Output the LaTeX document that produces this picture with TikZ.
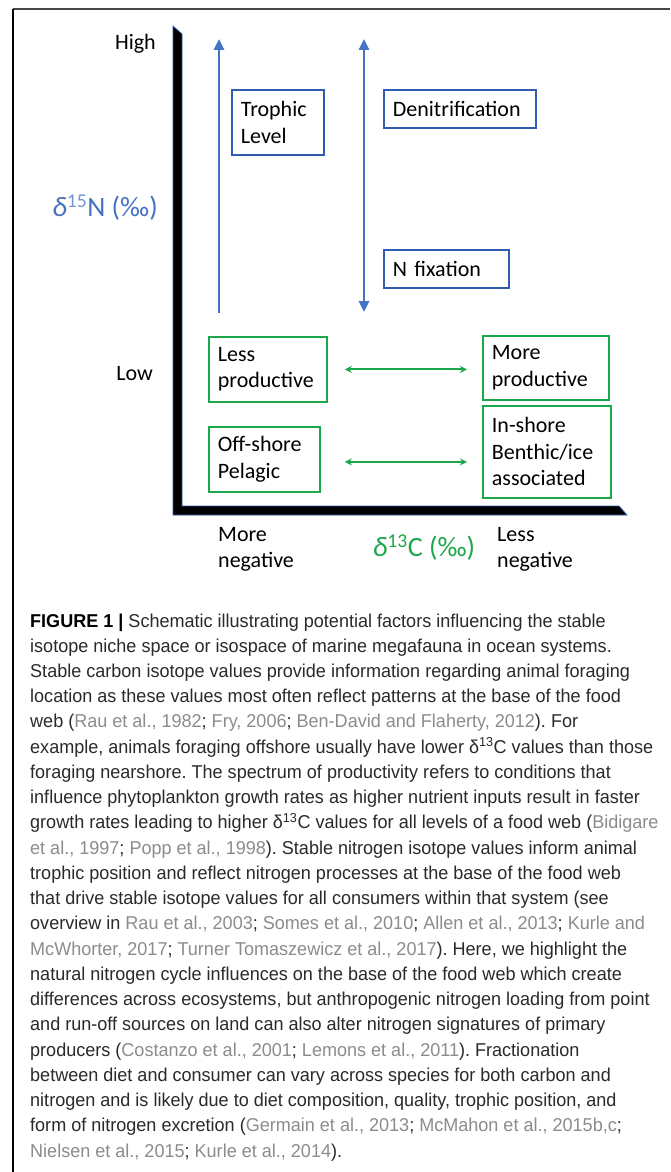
\documentclass[tikz,border=0pt]{standalone}
\usepackage{fontspec}
\setmainfont{Carlito}
\newfontfamily\capf[FakeStretch=0.97]{Liberation Sans}
\usetikzlibrary{arrows.meta}
\definecolor{bboxc}{HTML}{2F5CB0}
\definecolor{barrowc}{HTML}{4472C4}
\definecolor{gboxc}{HTML}{1BA84A}
\definecolor{garrowc}{HTML}{1BA84A}
\definecolor{citc}{HTML}{8C8C8C}
\definecolor{captxt}{HTML}{2A2A2A}
\definecolor{framec}{HTML}{454545}
\newcommand\cit[1]{\textcolor{citc}{#1}}
\frenchspacing
\begin{document}
\begin{tikzpicture}[x=1pt,y=-1pt,
  dfont/.style={font=\fontsize{22}{26.5}\selectfont},
  boxb/.style={draw=bboxc, line width=1.8pt, align=left, anchor=north west, inner xsep=9pt, inner ysep=0pt, dfont},
  boxg/.style={boxb, draw=gboxc},
  lbl/.style={inner sep=0pt, dfont},
  barr/.style={draw=barrowc, line width=2.6pt, -{Triangle[length=11pt,width=10pt]}},
  barrr/.style={draw=barrowc, line width=2.6pt, {Triangle[length=11pt,width=10pt]}-{Triangle[length=11pt,width=10pt]}},
  garr/.style={draw=garrowc, line width=2pt, {Stealth[length=7pt,width=7pt]}-{Stealth[length=7pt,width=7pt]}},
  capl/.style={anchor=base west, inner sep=0pt, font=\capf\fontsize{18.6}{22}\selectfont\frenchspacing, text=captxt}
]
\useasboundingbox (0,0) rectangle (670,1172);
\fill[white] (0,0) rectangle (670,1172);
% frame
\draw[framec, line width=1.5pt] (13,9) -- (670,9);
\draw[black, line width=1.1pt] (13,9) -- (13,1172);
% axes
\fill[black, draw=bboxc, line width=0.7pt] (173,26) -- (182,34) -- (182,506) -- (619,506) -- (627,515) -- (173,515) -- cycle;
% axis labels
\node[lbl, anchor=base east] (high) at (156,50) {High};
\node[lbl, anchor=base east] (low) at (153,380) {Low};
\node[lbl, font=\fontsize{28}{30}\selectfont, text=barrowc] (dn) at (105,208) {\textit{δ}\textsuperscript{\textcolor{barrowc!75}{15}}N (‰)};
\node[lbl, font=\fontsize{28}{30}\selectfont, text=garrowc] (dc) at (424,548) {\textit{δ}\textsuperscript{13}C (‰)};
\node[lbl, align=left, anchor=west] (mneg) at (218,549.5) {More\\negative};
\node[lbl, align=left, anchor=west] (lneg) at (497,549.5) {Less\\negative};
% boxes
\node[boxb, text width=74pt, minimum height=65pt] (troph) at (231,89) {Trophic\\Level};
\node[boxb, text width=134pt, minimum height=38pt] (denit) at (383,89) {Denitrification};
\node[boxb, text width=107pt, minimum height=38pt] (nfix) at (383,249) {N fixation};
\node[boxg, text width=100pt, minimum height=65pt] (lessp) at (208,336) {Less\\productive};
\node[boxg, text width=108pt, minimum height=64pt] (morep) at (482,335) {More\\productive};
\node[boxg, text width=93pt, minimum height=65pt] (offs) at (208,426) {Off-shore\\Pelagic};
\node[boxg, text width=110pt, minimum height=92pt] (insh) at (482,405) {In-shore\\Benthic/ice\\associated};
% arrows
\coordinate (a1b) at (219,313);
\coordinate (a1t) at (219,39);
\coordinate (a2b) at (364,312);
\coordinate (a2t) at (364,39);
\draw[barr] (a1b) -- (a1t);
\draw[barrr] (a2b) -- (a2t);
\draw[garr, shorten <=17pt, shorten >=15pt] (lessp.east) -- (lessp.east -| morep.west);
\draw[garr, shorten <=24pt, shorten >=15pt] ([yshift=-2.5pt]offs.east) -- ([yshift=-2.5pt]offs.east -| insh.west);
% caption
\node[capl] (c1) at (30,627) {\textbf{\textcolor{black}{FIGURE 1 |}} Schematic illustrating potential factors influencing the stable};
\node[capl] (c2) at (30,652.24) {isotope niche space or isospace of marine megafauna in ocean systems.};
\node[capl] (c3) at (30,677.48) {Stable carbon isotope values provide information regarding animal foraging};
\node[capl] (c4) at (30,702.72) {location as these values most often reflect patterns at the base of the food};
\node[capl] (c5) at (30,727.96) {web (\cit{Rau et al., 1982}; \cit{Fry, 2006}; \cit{Ben-David and Flaherty, 2012}). For};
\node[capl] (c6) at (30,753.2) {example, animals foraging offshore usually have lower δ\textsuperscript{13}C values than those};
\node[capl] (c7) at (30,778.44) {foraging nearshore. The spectrum of productivity refers to conditions that};
\node[capl] (c8) at (30,803.68) {influence phytoplankton growth rates as higher nutrient inputs result in faster};
\node[capl] (c9) at (30,828.92) {growth rates leading to higher δ\textsuperscript{13}C values for all levels of a food web (\cit{Bidigare}};
\node[capl] (c10) at (30,854.16) {\cit{et al., 1997}; \cit{Popp et al., 1998}). Stable nitrogen isotope values inform animal};
\node[capl] (c11) at (30,879.4) {trophic position and reflect nitrogen processes at the base of the food web};
\node[capl] (c12) at (30,904.64) {that drive stable isotope values for all consumers within that system (see};
\node[capl] (c13) at (30,929.88) {overview in \cit{Rau et al., 2003}; \cit{Somes et al., 2010}; \cit{Allen et al., 2013}; \cit{Kurle and}};
\node[capl] (c14) at (30,955.12) {\cit{McWhorter, 2017}; \cit{Turner Tomaszewicz et al., 2017}). Here, we highlight the};
\node[capl] (c15) at (30,980.36) {natural nitrogen cycle influences on the base of the food web which create};
\node[capl] (c16) at (30,1005.6) {differences across ecosystems, but anthropogenic nitrogen loading from point};
\node[capl] (c17) at (30,1030.84) {and run-off sources on land can also alter nitrogen signatures of primary};
\node[capl] (c18) at (30,1056.08) {producers (\cit{Costanzo et al., 2001}; \cit{Lemons et al., 2011}). Fractionation};
\node[capl] (c19) at (30,1081.32) {between diet and consumer can vary across species for both carbon and};
\node[capl] (c20) at (30,1106.56) {nitrogen and is likely due to diet composition, quality, trophic position, and};
\node[capl] (c21) at (30,1131.8) {form of nitrogen excretion (\cit{Germain et al., 2013}; \cit{McMahon et al., 2015b,c};};
\node[capl] (c22) at (30,1157.04) {\cit{Nielsen et al., 2015}; \cit{Kurle et al., 2014}).};
\end{tikzpicture}
\end{document}
